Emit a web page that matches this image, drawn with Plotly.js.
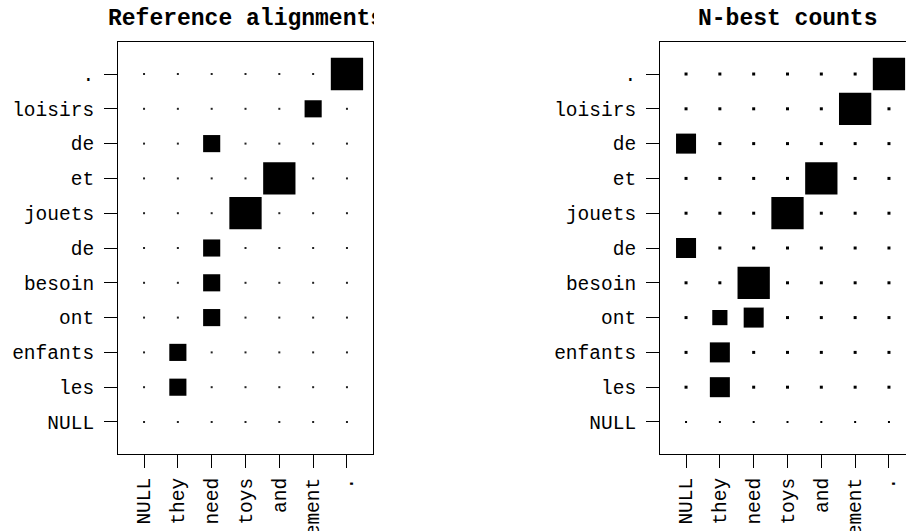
<!DOCTYPE html>
<html>
<head>
<meta charset="utf-8">
<script src="https://cdn.plot.ly/plotly-3.0.1.min.js"></script>
<style>
  html, body { margin: 0; padding: 0; overflow: hidden; background: #fff; width: 906px; height: 531px; }
  #wrap { position: relative; width: 906px; height: 531px; overflow: hidden; }
  #chart { position: absolute; left: 0; top: 0; }
  #clip { position: absolute; left: 374px; top: 0; width: 30px; height: 38px; background: #fff; }
</style>
</head>
<body>
<div id="wrap">
  <div id="chart"></div>
  <div id="clip"></div>
</div>
<script>
// English words (x axis, columns)
const enWords = ["NULL", "they", "need", "toys", "and", "amusement", "."];
// French words (y axis, rows, bottom to top)
const frWords = ["NULL", "les", "enfants", "ont", "besoin", "de", "jouets", "et", "de", "loisirs", "."];

// Reference alignments: cell (row, col) and relative square size
const refRows    = [10, 9, 8, 7, 6, 5, 4, 3, 2, 1];
const refCols    = [6, 5, 2, 4, 3, 2, 2, 2, 1, 1];
const refWeights = [1.0, 0.53, 0.53, 1.0, 1.0, 0.53, 0.53, 0.53, 0.53, 0.53];

// N-best counts: cell (row, col) and relative square size
const nbRows    = [10, 9, 8, 7, 6, 5, 4, 3, 3, 2, 1];
const nbCols    = [6, 5, 0, 4, 3, 0, 2, 1, 2, 1, 1];
const nbWeights = [1.0, 1.0, 0.62, 1.0, 1.0, 0.62, 1.0, 0.47, 0.62, 0.62, 0.62];

const FULL = 32.3; // px side of a full-size square

const gx = [], gy = [], gsR = [];
for (let r = 0; r < frWords.length; r++) {
  for (let c = 0; c < enWords.length; c++) {
    gx.push(c); gy.push(r);
    gsR.push(r === 0 ? 2 : 3);
  }
}

const font = "Liberation Mono, Courier New, monospace";

const traces = [
  { type: "scatter", mode: "markers", x: gx, y: gy, xaxis: "x", yaxis: "y",
    marker: { symbol: "square", size: 2, color: "#222", opacity: 1, line: { width: 0 } }, hoverinfo: "skip" },
  { type: "scatter", mode: "markers", x: refCols, y: refRows, xaxis: "x", yaxis: "y",
    marker: { symbol: "square", size: refWeights.map(w => w * FULL), color: "#000", opacity: 1, line: { width: 0 } } },
  { type: "scatter", mode: "markers", x: gx, y: gy, xaxis: "x2", yaxis: "y2",
    marker: { symbol: "square", size: gsR, color: "#000", opacity: 1, line: { width: 0 } }, hoverinfo: "skip" },
  { type: "scatter", mode: "markers", x: nbCols, y: nbRows, xaxis: "x2", yaxis: "y2",
    marker: { symbol: "square", size: nbWeights.map(w => w * FULL), color: "#000", opacity: 1, line: { width: 0 } } }
];

const W = 920, PW = 915;
const xAxisBase = {
  range: [-0.77, 6.77], tickmode: "array",
  tickvals: enWords.map((_, i) => i), ticktext: enWords,
  tickangle: -90, ticks: "outside", ticklen: 13, tickwidth: 1, tickcolor: "#000",
  showline: true, linecolor: "#000", linewidth: 1, mirror: true,
  showgrid: false, zeroline: false, fixedrange: true, automargin: false,
  ticklabelstandoff: 2,
  tickfont: { family: font, size: 19.5, color: "#000" }
};
const yAxisBase = {
  range: [-0.92, 10.92], tickmode: "array",
  tickvals: frWords.map((_, i) => i), ticktext: frWords,
  ticks: "outside", ticklen: 13, tickwidth: 1, tickcolor: "#000",
  showline: true, linecolor: "#000", linewidth: 1, mirror: true,
  showgrid: false, zeroline: false, fixedrange: true, automargin: false,
  ticklabelstandoff: 6,
  tickfont: { family: font, size: 19.5, color: "#000" }
};

const d1 = [118 / PW, 373 / PW];
const d2 = [660 / PW, 1];

const layout = {
  width: W, height: 531,
  margin: { l: 0, r: W - PW, t: 42, b: 77, pad: 0 },
  paper_bgcolor: "#fff", plot_bgcolor: "#fff",
  showlegend: false,
  xaxis: Object.assign({}, xAxisBase, { domain: d1, anchor: "y" }),
  yaxis: Object.assign({}, yAxisBase, { domain: [0, 1], anchor: "x" }),
  xaxis2: Object.assign({}, xAxisBase, { domain: d2, anchor: "y2" }),
  yaxis2: Object.assign({}, yAxisBase, { domain: [0, 1], anchor: "x2" }),
  annotations: [
    { text: "<b>Reference alignments</b>", xref: "paper", yref: "paper",
      x: (d1[0] + d1[1]) / 2, y: 1, yshift: 23, xanchor: "center", yanchor: "middle",
      showarrow: false, font: { family: font, size: 23, color: "#000" } },
    { text: "<b>N-best counts</b>", xref: "paper", yref: "paper",
      x: (d2[0] + d2[1]) / 2, y: 1, yshift: 23, xanchor: "center", yanchor: "middle",
      showarrow: false, font: { family: font, size: 23, color: "#000" } }
  ]
};

Plotly.newPlot("chart", traces, layout, { staticPlot: true, displayModeBar: false });
</script>
</body>
</html>
